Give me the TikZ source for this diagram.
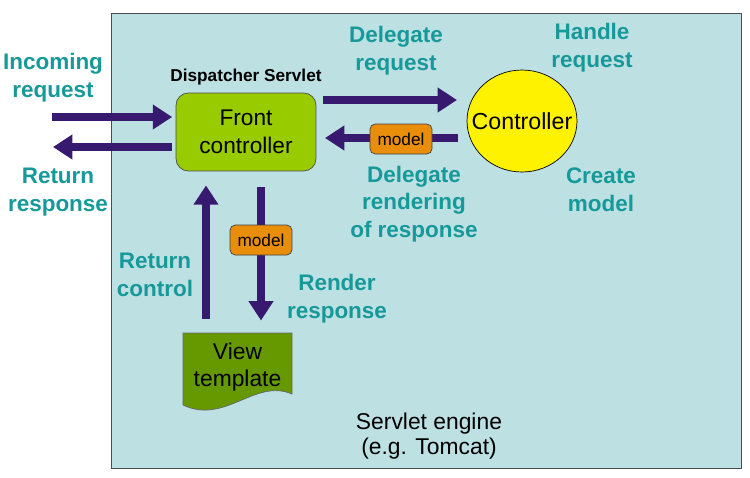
\documentclass[tikz,border=0pt]{standalone}
\usepackage{fontspec}
\setmainfont{Liberation Sans}
\usetikzlibrary{arrows.meta,shapes.geometric}

\definecolor{hintergrund}{HTML}{BDE0E3}
\definecolor{pfeilfarbe}{HTML}{37196F}
\definecolor{textfarbe}{HTML}{17999A}
\definecolor{hellgruen}{HTML}{99CC00}
\definecolor{dunkelgruen}{HTML}{669900}
\definecolor{modellfarbe}{HTML}{E88E0A}

\tikzset{
    pfeil/.style={draw=pfeilfarbe, line width=4.4pt, -{Triangle[width=13.5pt,length=11pt]}},
    beschriftung/.style={text=textfarbe, align=center, font=\fontsize{12.8}{15.8}\selectfont\bfseries},
    modell/.style={draw=black!75, fill=modellfarbe, rounded corners=3pt, minimum width=1.24cm, minimum height=0.6cm, inner sep=0pt, font=\fontsize{9.8}{11}\selectfont},
}

\begin{document}
\begin{tikzpicture}[x=0.02cm,y=-0.02cm]
    \useasboundingbox (0,0) rectangle (750,477);

    % Servlet-Engine (Hintergrund)
    \draw[fill=hintergrund, draw=black!70] (111,13) rectangle (741,468);
    \node[align=center, font=\fontsize{13}{14.2}\selectfont] (engine) at (429,436) {Servlet engine\\ (e.g. Tomcat)};

    % Front Controller und Controller
    \node[draw=black!70, fill=hellgruen, rounded corners=7pt, minimum width=2.8cm, minimum height=1.56cm, align=center,
          font=\fontsize{12.9}{15.8}\selectfont] (front) at (246,132) {Front\\controller};
    \node[font=\fontsize{9.8}{11}\selectfont\bfseries] (dispatcher) at (246,77) {Dispatcher Servlet};
    \node[ellipse, draw=black, fill=yellow, minimum width=2.2cm, minimum height=2.04cm, inner xsep=-6.5pt, inner ysep=0pt,
          font=\fontsize{13.2}{15}\selectfont] (ctrl) at (522,121) {Controller};

    % View Template (Dokument mit Welle unten)
    \filldraw[fill=dunkelgruen, draw=black!60] (183,333) -- (292,333) -- (292,394)
        .. controls (255,378) and (225,425) .. (183,405) -- cycle;
    \node[minimum width=2.18cm, minimum height=1.32cm, align=center, font=\fontsize{13}{15.8}\selectfont] (view) at (237.5,367) {View\\template};

    % Pfeile
    \coordinate (ein) at (52,117);
    \coordinate (aus) at (53,147);
    \coordinate (dr) at (323,100);
    \coordinate (rb) at (325,138);
    \coordinate (rk) at (206,0);
    \coordinate (rr) at (261,0);
    \draw[pfeil, shorten >=2pt] (ein) -- (ein -| front.west);
    \draw[pfeil, shorten <=2pt] (aus -| front.west) -- (aus);
    \draw[pfeil, shorten >=5.5pt] (dr) -- (dr -| ctrl.west);
    \draw[pfeil, shorten <=5pt] (rb -| ctrl.west) -- (rb);
    \draw[pfeil, shorten <=8.5pt, shorten >=8pt] (rk |- view.north) -- (rk |- front.south);
    \draw[pfeil, shorten <=9pt, shorten >=7.5pt] (rr |- front.south) -- (rr |- view.north);

    % Model-Kaestchen auf den Pfeilen
    \node[modell] (modell1) at (401,139) {model};
    \node[modell] (modell2) at (261,240) {model};

    % Beschriftungen
    \node[beschriftung] (l1) at (53,78) {Incoming\\request};
    \node[beschriftung] (l2) at (58,192) {Return\\response};
    \node[beschriftung] (l3) at (396,51) {Delegate\\request};
    \node[beschriftung] (l4) at (592,48) {Handle\\request};
    \node[beschriftung] (l5) at (414,204) {Delegate\\rendering\\of response};
    \node[beschriftung] (l6) at (601,190) {Create\\model};
    \node[beschriftung] (l7) at (155,275) {Return\\control};
    \node[beschriftung] (l8) at (337,299) {Render\\response};
\end{tikzpicture}
\end{document}
